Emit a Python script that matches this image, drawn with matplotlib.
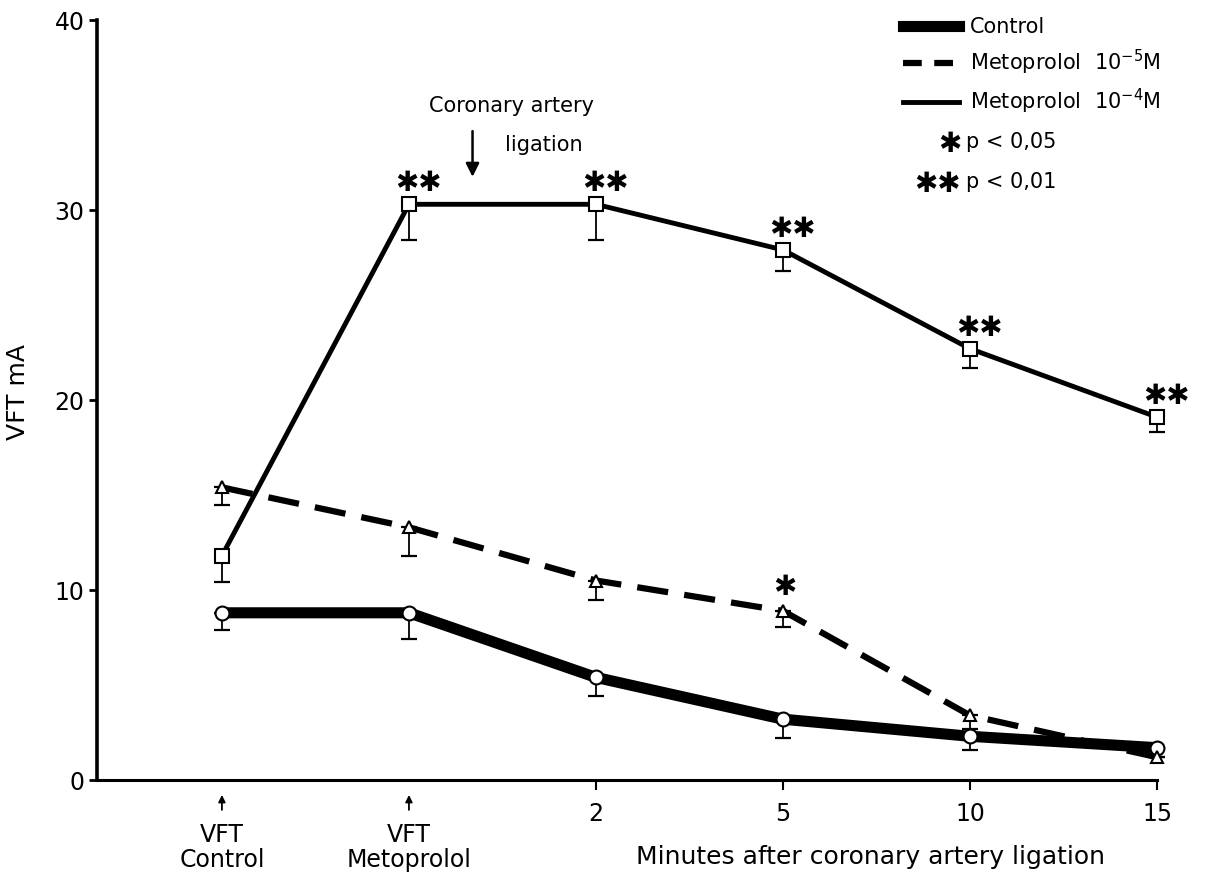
import numpy as np
import matplotlib.pyplot as plt
from matplotlib.lines import Line2D

plt.rcParams['font.family'] = ['DejaVu Sans']

# data (VFT in mA, mean with lower SEM bar)
x_labels = ['VFT\nControl', 'VFT\nMetoprolol', '2', '5', '10', '15']
control = [8.8, 8.8, 5.4, 3.2, 2.3, 1.7]
control_err = [0.9, 1.4, 1.0, 1.0, 0.7, 0.0]
meto5 = [15.4, 13.3, 10.5, 8.9, 3.4, 1.2]
meto5_err = [0.9, 1.5, 1.0, 0.85, 0.7, 0.0]
meto4 = [11.8, 30.3, 30.3, 27.9, 22.7, 19.1]
meto4_err = [1.4, 1.9, 1.9, 1.1, 1.0, 0.8]
sig4 = ['', '✱✱', '✱✱', '✱✱', '✱✱', '✱✱']
sig5 = ['', '', '', '✱', '', '']

x = np.arange(len(x_labels))

fig = plt.figure(figsize=(12.2, 8.82), dpi=100)
ax = fig.add_axes([97 / 1220, 102 / 882, 1063 / 1220, 760 / 882])

def draw(y, err, lw, ls, marker, ms):
    ax.errorbar(x, y, yerr=[err, np.zeros(len(err))], fmt='none', ecolor='k',
                elinewidth=1.3, capsize=6, capthick=1.6, clip_on=False, zorder=2)
    line, = ax.plot(x, y, color='k', lw=lw, linestyle=ls, solid_capstyle='butt',
                    clip_on=False, zorder=3)
    ax.plot(x, y, linestyle='none', marker=marker, ms=ms, mfc='white', mec='k',
            mew=1.5, clip_on=False, zorder=4)
    return line

draw(control, control_err, 8, '-', 'o', 10)
draw(meto5, meto5_err, 4.5, (0, (5, 2.6)), '^', 9)
draw(meto4, meto4_err, 3.5, '-', 's', 9.5)

for xi, yi, s in zip(x, meto4, sig4):
    if s:
        ax.annotate(s, (xi, yi), xytext=(7, 5), textcoords='offset points',
                    ha='center', va='bottom', fontsize=20,
                    annotation_clip=False)
for xi, yi, s in zip(x, meto5, sig5):
    if s:
        ax.annotate(s, (xi, yi), xytext=(1, 7), textcoords='offset points',
                    ha='center', va='bottom', fontsize=20,
                    annotation_clip=False)

# axes styling
ax.set_xlim(-0.668, 5.016)
ax.set_ylim(0, 40)
for s in ['top', 'right']:
    ax.spines[s].set_visible(False)
ax.spines['left'].set_linewidth(2.6)
ax.spines['bottom'].set_linewidth(2.2)
ax.spines['bottom'].set_bounds(-0.668, 5)
ax.set_yticks([0, 10, 20, 30, 40])
ax.tick_params(axis='y', direction='out', length=6, width=2, labelsize=17, pad=3)
ax.set_xticks(x[2:])
ax.set_xticklabels(x_labels[2:])
ax.tick_params(axis='x', direction='out', length=7, width=1.5, labelsize=17, pad=9)
ax.set_ylabel('VFT mA', fontsize=18)
ax.yaxis.set_label_coords(-0.063, 0.51)

# VFT markers below the axis
trans = ax.get_xaxis_transform()
for xi in x[:2]:
    ax.annotate('', xy=(xi, -0.016), xytext=(xi, -0.043), xycoords=trans,
                textcoords=trans,
                arrowprops=dict(arrowstyle='-|>', color='k', lw=1.3,
                                mutation_scale=10))
    ax.text(xi, -0.056, x_labels[xi], transform=trans, ha='center', va='top',
            fontsize=17, linespacing=1.1)

ax.text(3.47, -0.086, 'Minutes after coronary artery ligation', transform=trans,
        ha='center', va='top', fontsize=18)

# coronary artery ligation arrow
ax.annotate('', xy=(1.34, 31.6), xytext=(1.34, 34.3),
            arrowprops=dict(arrowstyle='-|>', color='k', lw=1.8,
                            mutation_scale=20))
ax.text(1.55, 35.5, 'Coronary artery', ha='center', va='center', fontsize=15)
ax.text(1.72, 33.4, 'ligation', ha='center', va='center', fontsize=15)

# legend
handles = [Line2D([], [], color='k', lw=8),
           Line2D([], [], color='k', lw=4.5, linestyle=(0, (3, 2, 3, 2, 1, 2))),
           Line2D([], [], color='k', lw=3.5)]
labels = ['Control', r'Metoprolol  10$^{-5}$M', r'Metoprolol  10$^{-4}$M']
fig.legend(handles, labels, loc='upper left', bbox_to_anchor=(903 / 1220, 1 - 17 / 882),
           frameon=False, fontsize=15, handlelength=2.7, handletextpad=0.5,
           labelspacing=0.5, borderpad=0, borderaxespad=0)
fig.text(961 / 1220, 1 - 144 / 882, '✱', ha='right', va='center', fontsize=20)
fig.text(966 / 1220, 1 - 142 / 882, 'p < 0,05', ha='left', va='center', fontsize=15)
fig.text(961 / 1220, 1 - 184 / 882, '✱✱', ha='right', va='center', fontsize=20)
fig.text(966 / 1220, 1 - 182 / 882, 'p < 0,01', ha='left', va='center', fontsize=15)

plt.savefig('out.png', dpi=100)
